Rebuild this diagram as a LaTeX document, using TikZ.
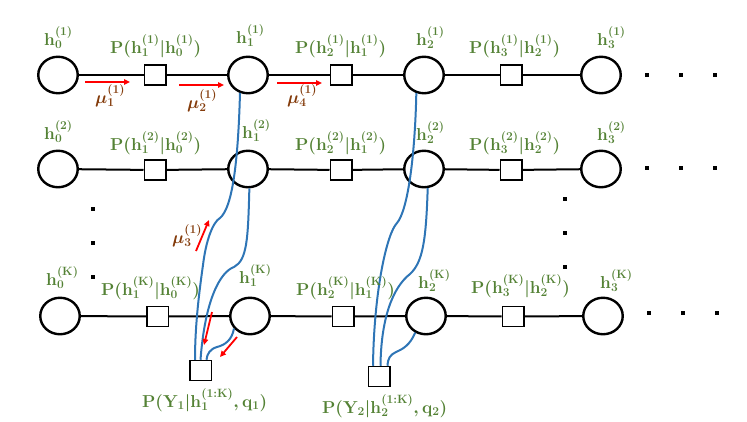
\documentclass[tikz,border=0pt]{standalone}
\usetikzlibrary{arrows.meta,shapes.geometric}
\definecolor{labgreen}{RGB}{84,130,53}
\definecolor{mubrown}{RGB}{132,60,12}
\definecolor{lineblue}{RGB}{46,117,182}
\newcommand{\hh}[2]{\mathbf{h}_{#1}^{(#2)}}
\newcommand{\PP}[3]{\mathbf{P}(\hh{#1}{#3}|\hh{#2}{#3})}
\begin{document}
\begin{tikzpicture}[x=1pt,y=-1pt,
  var/.style={ellipse,draw,line width=2.4pt,minimum width=39.5pt,minimum height=36.5pt,inner sep=0pt},
  fac/.style={rectangle,draw,line width=1.5pt,minimum width=21.5pt,minimum height=20pt,inner sep=0pt},
  edge/.style={line width=2pt},
  lab/.style={text=labgreen,font=\fontsize{17}{20}\selectfont\boldmath,inner sep=0pt,anchor=base west},
  mulab/.style={text=mubrown,font=\fontsize{17}{20}\selectfont\boldmath,inner sep=0pt,anchor=base west},
  msg/.style={draw=red,line width=1.8pt,-{Triangle[length=6pt,width=5.5pt]}},
  link/.style={draw=lineblue,line width=2pt},
  dotm/.style={rectangle,fill=black,minimum size=4pt,inner sep=0pt}
]
\useasboundingbox (0,0) rectangle (747,421);

% row 1
\node[var] (h01) at (58,75) {};
\node[fac] (f11) at (155,75) {};
\node[var] (h11) at (248,75) {};
\node[fac] (f21) at (341,75) {};
\node[var] (h21) at (424,75) {};
\node[fac] (f31) at (511,75) {};
\node[var] (h31) at (601,75) {};
% row 2
\node[var] (h02) at (58,169) {};
\node[fac] (f12) at (155,170) {};
\node[var] (h12) at (248,169) {};
\node[fac] (f22) at (341,170) {};
\node[var] (h22) at (424,169) {};
\node[fac] (f32) at (511,170) {};
\node[var] (h32) at (601,169) {};
% row K
\node[var] (h0K) at (60,316) {};
\node[fac] (f1K) at (157.5,316.5) {};
\node[var] (h1K) at (250,316) {};
\node[fac] (f2K) at (343,316.5) {};
\node[var] (h2K) at (426,316) {};
\node[fac] (f3K) at (513,316.5) {};
\node[var] (h3K) at (603,316) {};
% observation factors
\node[fac] (Y1) at (200.5,370.5) {};
\node[fac] (Y2) at (379,376.5) {};

\draw[edge] (h01) -- (f11) -- (h11) -- (f21) -- (h21) -- (f31) -- (h31);
\draw[edge] (h02) -- (f12) -- (h12) -- (f22) -- (h22) -- (f32) -- (h32);
\draw[edge] (h0K) -- (f1K) -- (h1K) -- (f2K) -- (h2K) -- (f3K) -- (h3K);

% dots
\foreach \x/\y [count=\i] in {647/75,681/75,715/75,647/168,681/168,715/168,649/313,683/313,717/313,93/209,93/243,93/277,565/199,565/233,565/267}
  \node[dotm] (d\i) at (\x,\y) {};

% blue links
\draw[link] (h11.246) .. controls (238,165) and (232,208) .. (220,218)
  .. controls (213,222) and (206,240) .. (203,265)
  .. controls (198,300) and (195,330) .. ([xshift=-5.5pt]Y1.north);
\draw[link] (h12.274) .. controls (248,240) and (247,260) .. (234,267)
  .. controls (220,272) and (205,300) .. (Y1.north);
\draw[link] (h1K.218) .. controls (232,340) and (225,345) .. (217,347)
  .. controls (210,349) and (207,354) .. ([xshift=6pt]Y1.north);

\draw[link] (h21.247) .. controls (415,155) and (408,210) .. (397,223)
  .. controls (387,233) and (374,290) .. ([xshift=-6pt]Y2.north);
\draw[link] (h22.281) .. controls (426,240) and (423,262) .. (410,274)
  .. controls (392,288) and (381,320) .. ([xshift=1.5pt]Y2.north);
\draw[link] (h2K.237) .. controls (410,345) and (403,349) .. (396,352)
  .. controls (390,355) and (388,358) .. ([xshift=8.5pt]Y2.north);

% message arrows
\coordinate (m1a) at (85,82);   \coordinate (m1b) at (130,82);
\coordinate (m2a) at (179,85);  \coordinate (m2b) at (224,85);
\coordinate (m4a) at (277,83);  \coordinate (m4b) at (322,83);
\coordinate (m3a) at (196,251); \coordinate (m3b) at (209,220);
\coordinate (m5a) at (212,312); \coordinate (m5b) at (204,345);
\coordinate (m6a) at (237,337); \coordinate (m6b) at (220,357);
\draw[msg] (m1a) -- (m1b);
\draw[msg] (m2a) -- (m2b);
\draw[msg] (m4a) -- (m4b);
\draw[msg] (m3a) -- (m3b);
\draw[msg] (m5a) -- (m5b);
\draw[msg] (m6a) -- (m6b);

% labels row 1
\node[lab] (l01) at (44,45) {$\hh{0}{1}$};
\node[lab] (p11) at (110,53) {$\PP{1}{0}{1}$};
\node[lab] (l11) at (236,43) {$\hh{1}{1}$};
\node[lab] (p21) at (295,53) {$\PP{2}{1}{1}$};
\node[lab] (l21) at (416,45) {$\hh{2}{1}$};
\node[lab] (p31) at (469,53) {$\PP{3}{2}{1}$};
\node[lab] (l31) at (597,45) {$\hh{3}{1}$};
% labels row 2
\node[lab] (l02) at (44,139) {$\hh{0}{2}$};
\node[lab] (p12) at (110,150) {$\PP{1}{0}{2}$};
\node[lab] (l12) at (242,138) {$\hh{1}{2}$};
\node[lab] (p22) at (295,150) {$\PP{2}{1}{2}$};
\node[lab] (l22) at (416,140) {$\hh{2}{2}$};
\node[lab] (p32) at (469,150) {$\PP{3}{2}{2}$};
\node[lab] (l32) at (597,140) {$\hh{3}{2}$};
% labels row K
\node[lab] (l0K) at (46,285) {$\hh{0}{\mathbf{K}}$};
\node[lab] (p1K) at (101,295) {$\PP{1}{0}{\mathbf{K}}$};
\node[lab] (l1K) at (239,283) {$\hh{1}{\mathbf{K}}$};
\node[lab] (p2K) at (296,295) {$\PP{2}{1}{\mathbf{K}}$};
\node[lab] (l2K) at (418,288) {$\hh{2}{\mathbf{K}}$};
\node[lab] (p3K) at (471,293) {$\PP{3}{2}{\mathbf{K}}$};
\node[lab] (l3K) at (600,288) {$\hh{3}{\mathbf{K}}$};
% observation labels
\node[lab] (y1l) at (142,407) {$\mathbf{P}(\mathbf{Y}_1|\hh{1}{1:\mathbf{K}},\mathbf{q}_1)$};
\node[lab] (y2l) at (322,413) {$\mathbf{P}(\mathbf{Y}_2|\hh{2}{1:\mathbf{K}},\mathbf{q}_2)$};
% message labels
\node[mulab] (mu1) at (95,103) {$\mu_1^{(1)}$};
\node[mulab] (mu2) at (187,108) {$\mu_2^{(1)}$};
\node[mulab] (mu4) at (287,103) {$\mu_4^{(1)}$};
\node[mulab] (mu3) at (172,243) {$\mu_3^{(1)}$};
\end{tikzpicture}
\end{document}
